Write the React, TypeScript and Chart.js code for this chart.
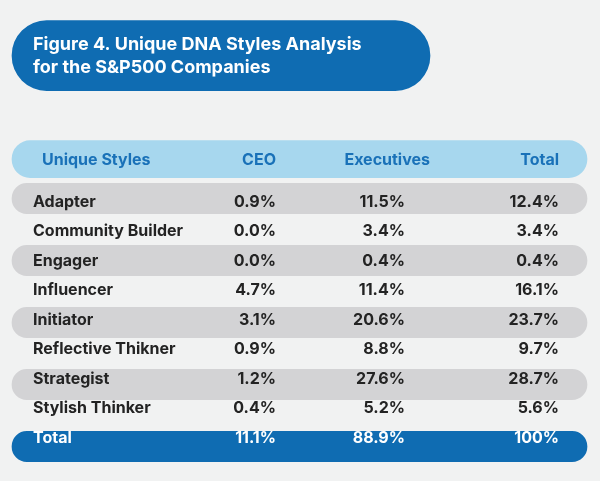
import React, { useEffect, useRef } from 'react';
import { Chart, registerables } from 'chart.js';

Chart.register(...registerables);

// ---------- data ----------
const titleLines = ['Figure 4. Unique DNA Styles Analysis', 'for the S&P500 Companies'];
const headers = ['Unique Styles', 'CEO', 'Executives', 'Total'];
const styles = [
  'Adapter',
  'Community Builder',
  'Engager',
  'Influencer',
  'Initiator',
  'Reflective Thikner',
  'Strategist',
  'Stylish Thinker',
];
const ceoShare = [0.9, 0.0, 0.0, 4.7, 3.1, 0.9, 1.2, 0.4];
const executivesShare = [11.5, 3.4, 0.4, 11.4, 20.6, 8.8, 27.6, 5.2];
const totalShare = [12.4, 3.4, 0.4, 16.1, 23.7, 9.7, 28.7, 5.6];
const totalLabel = 'Total';
const totalRow = [11.1, 88.9, 100];

// ---------- layout (x in px units, y in row units) ----------
const X_MIN = 0;
const X_MAX = 600;
const Y_MIN = -6.403;
const Y_MAX = 9.113;
const TITLE_ROW = -4.61;
const HEADER_ROW = -1.27;
const BAND_LEFT = 12;
const BAND_RIGHT = 587;
const TITLE_RIGHT = 430;
const LABEL_X = 33;
const HEADER_LABEL_X = 42;
const VALUE_RIGHT = [276, 405, 559];
const HEADER_RIGHT = [276, 430, 559];
const TEXT_OFFSET = 0.113;
const TEXT_PITCH = 29.5 / 31;

const BG = '#f1f2f2';
const DARK_BLUE = '#0f6cb2';
const LIGHT_BLUE = '#a7d7ee';
const STRIPE = '#d3d3d5';
const HEADER_TEXT = '#1971b8';
const BODY_TEXT = '#232323';
const FONT = 'Inter, "Noto Sans", sans-serif';

const fmt = (v: number) => (v === 100 ? '100%' : v.toFixed(1) + '%');

const tablePlugin = {
  id: 'tableText',
  afterDatasetsDraw(chart: any) {
    const ctx = chart.ctx as CanvasRenderingContext2D;
    const xs = chart.scales.x;
    const ys = chart.scales.y;
    ctx.save();
    ctx.textBaseline = 'middle';

    // title
    ctx.fillStyle = '#ffffff';
    ctx.font = `bold 18px ${FONT}`;
    ctx.textAlign = 'left';
    const ty = ys.getPixelForValue(TITLE_ROW);
    ctx.fillText(titleLines[0], xs.getPixelForValue(LABEL_X), ty - 10.5);
    ctx.fillText(titleLines[1], xs.getPixelForValue(LABEL_X), ty + 12);

    // header
    ctx.fillStyle = HEADER_TEXT;
    ctx.font = `bold 16px ${FONT}`;
    const hy = ys.getPixelForValue(HEADER_ROW) + 1;
    ctx.textAlign = 'left';
    ctx.fillText(headers[0], xs.getPixelForValue(HEADER_LABEL_X), hy);
    ctx.textAlign = 'right';
    for (let c = 1; c < headers.length; c++) {
      ctx.fillText(headers[c], xs.getPixelForValue(HEADER_RIGHT[c - 1]), hy);
    }

    // body rows
    const cols = [ceoShare, executivesShare, totalShare];
    ctx.font = `bold 16px ${FONT}`;
    ctx.fillStyle = BODY_TEXT;
    styles.forEach((name, i) => {
      const y = ys.getPixelForValue(TEXT_OFFSET + i * TEXT_PITCH);
      ctx.textAlign = 'left';
      ctx.fillText(name, xs.getPixelForValue(LABEL_X), y);
      ctx.textAlign = 'right';
      cols.forEach((col, c) => {
        ctx.fillText(fmt(col[i]), xs.getPixelForValue(VALUE_RIGHT[c]), y);
      });
    });

    // total row
    ctx.fillStyle = '#ffffff';
    const ry = ys.getPixelForValue(TEXT_OFFSET + styles.length * TEXT_PITCH);
    ctx.textAlign = 'left';
    ctx.fillText(totalLabel, xs.getPixelForValue(LABEL_X), ry);
    ctx.textAlign = 'right';
    totalRow.forEach((v, c) => {
      ctx.fillText(fmt(v), xs.getPixelForValue(VALUE_RIGHT[c]), ry);
    });
    ctx.restore();
  },
};

export default function App() {
  const canvasRef = useRef<HTMLCanvasElement | null>(null);

  useEffect(() => {
    document.body.style.margin = '0';
    document.body.style.background = BG;
    const canvas = canvasRef.current;
    if (!canvas) return;

    const stripeData = styles
      .map((_, i) => (i % 2 === 0 ? { x: [BAND_LEFT, BAND_RIGHT], y: i } : null))
      .filter((d) => d !== null);

    const chart = new Chart(canvas, {
      type: 'bar',
      data: {
        datasets: [
          {
            data: [{ x: [BAND_LEFT, TITLE_RIGHT], y: TITLE_ROW }] as any,
            backgroundColor: DARK_BLUE,
            barThickness: 70,
            borderRadius: 35,
            borderSkipped: false,
            grouped: false,
          },
          {
            data: [{ x: [BAND_LEFT, BAND_RIGHT], y: HEADER_ROW }] as any,
            backgroundColor: LIGHT_BLUE,
            barThickness: 37,
            borderRadius: 18.5,
            borderSkipped: false,
            grouped: false,
          },
          {
            data: stripeData as any,
            backgroundColor: STRIPE,
            barThickness: 30.5,
            borderRadius: 15.25,
            borderSkipped: false,
            grouped: false,
          },
          {
            data: [{ x: [BAND_LEFT, BAND_RIGHT], y: styles.length }] as any,
            backgroundColor: DARK_BLUE,
            barThickness: 30.5,
            borderRadius: 15.25,
            borderSkipped: false,
            grouped: false,
          },
        ],
      },
      options: {
        indexAxis: 'y',
        animation: false,
        responsive: false,
        events: [],
        layout: { padding: 0 },
        plugins: {
          legend: { display: false },
          tooltip: { enabled: false },
          title: { display: false },
        },
        scales: {
          x: { type: 'linear', display: false, min: X_MIN, max: X_MAX, offset: false },
          y: { type: 'linear', display: false, min: Y_MIN, max: Y_MAX, reverse: true, offset: false },
        },
      } as any,
      plugins: [tablePlugin],
    });

    return () => chart.destroy();
  }, []);

  return (
    <div style={{ width: 600, height: 481, background: BG }}>
      <canvas ref={canvasRef} width={600} height={481} style={{ display: 'block' }} />
    </div>
  );
}
